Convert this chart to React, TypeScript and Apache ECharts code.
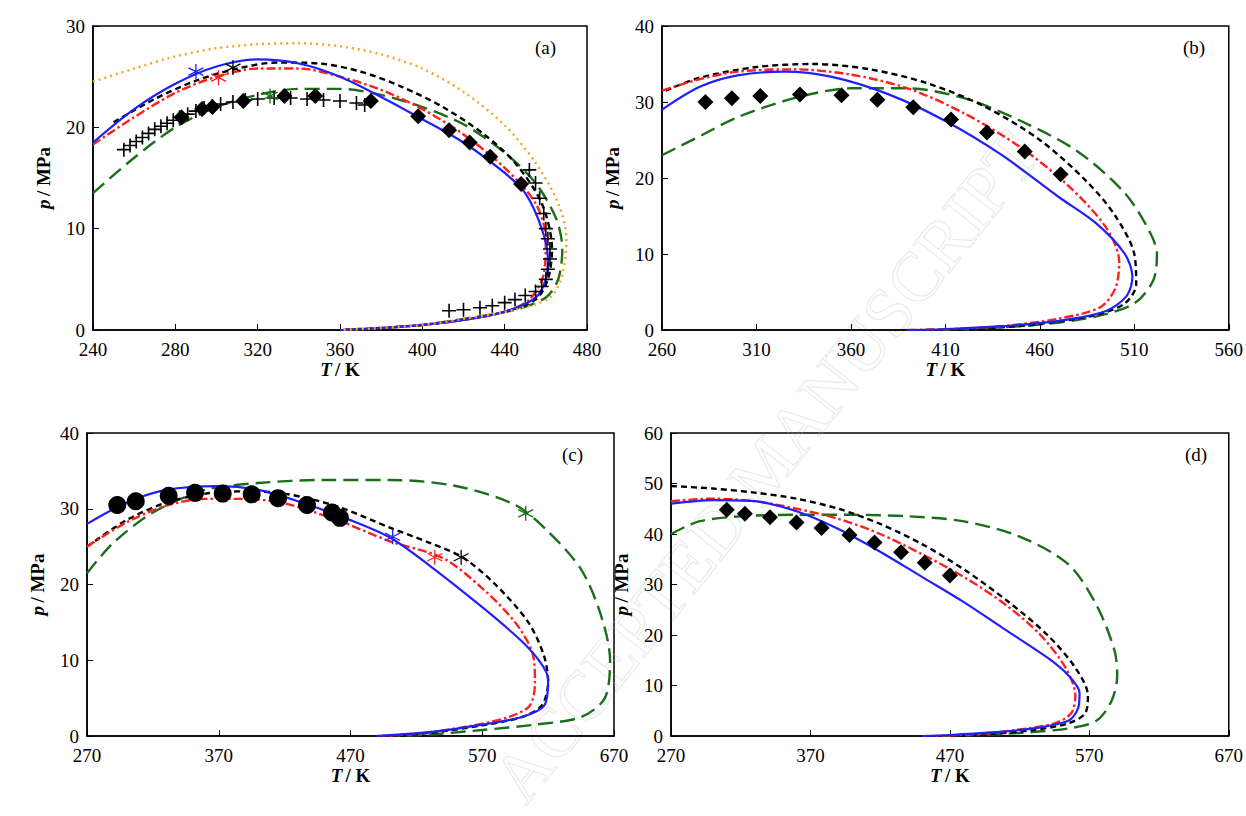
import { useRef, useEffect } from "react";
import * as echarts from "echarts";

// panel (a)
const aBlue = [[240,18.5],[260,21.8],[280,24.3],[300,26],[320,26.7],[340,26.3],[360,25],[380,23],[400,20.8],[420,18.5],[440,15.5],[450,13.5],[458,10],[461,7],[460,5],[455,3.2],[440,1.8],[420,1],[400,0.5],[380,0.2],[360,0]];
const aRed = [[240,18.3],[260,21],[280,23.4],[300,25],[320,25.8],[340,25.8],[360,25],[380,23.7],[400,21.8],[420,19.3],[440,16],[455,12.5],[460,9],[459,5.5],[452,3],[440,1.8],[420,1],[400,0.5],[380,0.2],[360,0]];
const aBlack = [[250,20.5],[270,22.8],[290,24.6],[310,25.8],[330,26.4],[350,26.3],[370,25.5],[390,24],[410,22],[430,19.3],[445,16.5],[458,12.5],[463,8],[461,5],[455,3],[440,1.8],[420,1],[400,0.5],[380,0.2],[360,0]];
const aGreen = [[240,13.5],[260,17],[280,20],[300,22],[320,23.2],[340,23.8],[360,23.8],[380,23.2],[400,22],[420,20.3],[440,17.5],[455,14.5],[465,11],[468,8],[466,5],[460,3.2],[445,2],[420,1.1],[400,0.5],[380,0.2],[360,0]];
const aOrange = [[240,24.5],[260,25.8],[280,27],[300,27.8],[320,28.2],[340,28.3],[360,28],[380,27.2],[400,25.8],[420,23.5],[440,20.2],[455,16.5],[466,12.5],[470,9],[468,5.5],[462,3.2],[445,2],[420,1.1],[400,0.5],[380,0.2],[360,0]];
const aCross = [[255,17.8],[258,18.2],[261,18.6],[264,19],[267,19.4],[270,19.8],[273,20.1],[276,20.4],[279,20.7],[282,21],[286,21.3],[290,21.6],[294,21.9],[298,22.1],[302,22.3],[308,22.5],[314,22.7],[320,22.8],[328,22.9],[336,22.9],[344,22.8],[352,22.7],[360,22.6],[368,22.4],[372,22.2],[452,15.8],[455,14.5],[457,13],[459,11.5],[460,10],[461,9],[462,8],[462,7],[461,6],[460,5],[458,4.3],[455,3.8],[450,3.4],[445,3],[440,2.7],[434,2.4],[428,2.2],[420,2],[413,1.9]];
const aDiamond = [[283,21],[293,21.8],[298,22],[313,22.6],[333,23.1],[348,23.1],[375,22.6],[398,21.1],[413,19.7],[423,18.5],[433,17.1],[448,14.4]];
const aStars = [{ c: "blue", v: [290,25.5] }, { c: "red", v: [301,24.9] }, { c: "black", v: [308,25.9] }, { c: "green", v: [326,23.1] }];

// panel (b)
const bBlue = [[260,29],[280,32],[300,33.5],[325,34],[350,33.3],[380,31],[410,27.5],[440,23],[470,17.5],[490,14],[505,10],[509,7],[506,4.5],[495,2.5],[470,1.2],[440,0.5],[410,0.1],[390,0]];
const bRed = [[260,31.5],[280,33],[300,34],[330,34.3],[360,33.6],[390,31.8],[420,28.5],[450,24],[475,19],[495,13.5],[502,9],[500,5.5],[492,3],[470,1.5],[440,0.5],[410,0.1],[390,0]];
const bBlack = [[262,31.5],[280,33.2],[310,34.6],[340,35],[370,34.3],[400,32.5],[430,29.5],[460,25],[485,19.5],[500,15],[510,10],[511,6],[505,3.5],[490,2],[460,0.8],[430,0.2],[400,0]];
const bGreen = [[260,23],[280,25.5],[300,28],[330,30.5],[360,31.8],[390,31.8],[420,30.5],[450,27.5],[480,23.5],[505,18],[518,13],[522,10],[520,6.5],[510,3.5],[490,1.8],[460,0.7],[420,0.1],[400,0]];
const bDiamond = [[283,30],[297,30.5],[312,30.8],[333,31],[355,30.9],[374,30.3],[393,29.3],[413,27.7],[432,26],[452,23.5],[471,20.5]];

// panel (c)
const cBlue = [[270,28],[300,30.8],[330,32.5],[370,33],[400,32.5],[430,31],[470,28.5],[500,26.2],[530,22.5],[570,17],[600,12.5],[615,9.5],[620,7.5],[617,4],[600,2.5],[570,1.5],[530,0.5],[490,0]];
const cRed = [[270,25],[300,28.2],[330,30.4],[360,31.3],[390,31.3],[420,30.7],[460,28.5],[500,25.7],[540,23.5],[570,19.5],[595,15],[608,11],[610,7],[606,4],[590,2.5],[560,1.3],[520,0.3],[490,0]];
const cBlack = [[270,25],[300,28.5],[330,30.8],[360,32],[390,32.3],[420,32],[460,30.3],[500,27.5],[530,25.5],[555,23.6],[580,20],[605,15],[617,10.5],[620,7],[615,4],[600,2.5],[570,1.4],[530,0.4],[500,0]];
const cGreen = [[270,21.5],[290,25.5],[320,29.5],[360,32.5],[400,33.4],[450,33.8],[500,33.8],[550,33],[595,30.5],[620,27],[645,22],[660,16],[667,10],[663,5],[645,2.5],[610,1.5],[570,0.8],[530,0.2],[500,0]];
const cCircle = [[293,30.5],[307,31],[332,31.7],[352,32.1],[373,32],[395,31.9],[415,31.4],[437,30.5],[456,29.5],[462,28.8]];
const cStars = [{ c: "blue", v: [502,26.3] }, { c: "red", v: [534,23.6] }, { c: "black", v: [554,23.6] }, { c: "green", v: [603,29.4] }];

// panel (d)
const dBlue = [[270,46],[300,46.7],[330,46.5],[360,44.5],[390,41],[420,36.5],[450,31.5],[480,26.5],[510,21],[540,15.5],[555,12],[563,8.5],[562,5.5],[555,3],[530,1.5],[500,0.7],[470,0.2],[450,0]];
const dRed = [[270,46.5],[300,47],[330,46.5],[360,45],[390,43],[420,40],[450,36],[480,31.5],[510,26],[535,20],[553,13.5],[560,8],[557,4.5],[545,2.5],[520,1.3],[490,0.4],[460,0]];
const dBlack = [[270,49.5],[300,49],[330,48.2],[360,47],[390,45],[420,42],[450,38],[480,33],[510,27],[540,20],[560,13.5],[569,8],[567,4.5],[555,2.5],[530,1.2],[500,0.4],[470,0]];
const dGreen = [[270,40],[290,42.5],[320,43.5],[360,43.8],[400,43.8],[440,43.5],[480,42.5],[520,39.5],[555,34],[575,26],[588,17],[590,12],[586,7],[575,3],[555,1.5],[520,0.6],[480,0.1],[460,0]];
const dDiamond = [[310,44.8],[323,44],[341,43.3],[360,42.3],[378,41.2],[398,39.8],[416,38.3],[435,36.4],[452,34.3],[470,31.8]];

const xRanges = [[240, 480, 40], [260, 560, 50], [270, 670, 100], [270, 670, 100]];
const yRanges = [[0, 30, 10], [0, 40, 10], [0, 40, 10], [0, 60, 10]];
const panelLabels = ["(a)", "(b)", "(c)", "(d)"];

const FONT = "'Liberation Serif', 'Times New Roman', serif";
const STAR = "path://M0,-10L0,10M-8.7,-5L8.7,5M-8.7,5L8.7,-5";
const PLUS = "path://M-6,0L6,0M0,-6L0,6";

const COLORS: Record<string, string> = { blue: "#1f1fff", red: "#ff1f1f", black: "#000", green: "#1a6e1a" };

const grids = [
  { left: 93, top: 26, width: 494, height: 304 },
  { left: 662, top: 26, width: 573, height: 304 },
  { left: 87, top: 433, width: 527, height: 303 },
  { left: 671, top: 433, width: 566, height: 303 },
];

const line = (i: number, data: number[][], color: string, type: any, width = 2) => ({
  type: "line", xAxisIndex: i, yAxisIndex: i, data, symbol: "none", smooth: 0.3, z: 3,
  lineStyle: { color, width, type },
});

const stroked = (i: number, data: number[][], symbol: string, color: string, size: number, bw = 1.3) => ({
  type: "scatter", xAxisIndex: i, yAxisIndex: i, data, symbol, symbolSize: size, z: 5,
  itemStyle: { color: "rgba(0,0,0,0)", borderColor: color, borderWidth: bw, opacity: 1 },
});

const filled = (i: number, data: number[][], symbol: string, size: number) => ({
  type: "scatter", xAxisIndex: i, yAxisIndex: i, data, symbol, symbolSize: size, z: 4,
  itemStyle: { color: "#000", opacity: 1 },
});

const App = () => {
  const chartRef = useRef(null);

  useEffect(() => {
    document.body.style.margin = "0";
    if (!chartRef.current) return;
    const chart = echarts.init(chartRef.current, null, { renderer: "svg" });

    const axisCommon = {
      axisLine: { show: true, onZero: false, lineStyle: { color: "#000", width: 1.5 } },
      axisTick: { show: true, inside: true, length: 6, lineStyle: { color: "#000" } },
      axisLabel: { color: "#000", fontFamily: FONT, fontSize: 19 },
      splitLine: { show: false },
    };
    const rich = {
      i: { fontFamily: FONT, fontSize: 19, fontWeight: "bold", fontStyle: "italic", color: "#000" },
      n: { fontFamily: FONT, fontSize: 19, fontWeight: "bold", color: "#000" },
    };

    const xAxis = xRanges.map((r, i) => ({
      type: "value", gridIndex: i, min: r[0], max: r[1], interval: r[2], ...axisCommon,
      axisLabel: { ...axisCommon.axisLabel, margin: 10 },
      name: "{i|T} {n|/ K}", nameLocation: "middle", nameGap: 26, nameTextStyle: { rich },
    }));
    const yAxis = yRanges.map((r, i) => ({
      type: "value", gridIndex: i, min: r[0], max: r[1], interval: r[2], ...axisCommon,
      name: "{i|p} {n|/ MPa}", nameLocation: "middle", nameGap: 40, nameTextStyle: { rich },
    }));

    const ORANGE = "#f5a623";
    const dash = [6, 4], dashDot = [9, 3, 2.5, 3], longDash = [15, 7];

    const series: any[] = [];
    const sets = [
      [aBlue, aRed, aBlack, aGreen],
      [bBlue, bRed, bBlack, bGreen],
      [cBlue, cRed, cBlack, cGreen],
      [dBlue, dRed, dBlack, dGreen],
    ];
    sets.forEach((s, i) => {
      series.push(line(i, s[3], COLORS.green, longDash, 2.4));
      series.push(line(i, s[2], COLORS.black, dash, 2.4));
      series.push(line(i, s[1], COLORS.red, dashDot, 2.4));
      series.push(line(i, s[0], COLORS.blue, "solid", 2.2));
    });
    series.push(line(0, aOrange, ORANGE, [2, 4], 2.5));
    series.push(stroked(0, aCross, PLUS, "#000", 14, 1.6));
    series.push(filled(0, aDiamond, "diamond", 16));
    series.push(filled(1, bDiamond, "diamond", 16));
    series.push(filled(2, cCircle, "circle", 18));
    series.push(filled(3, dDiamond, "diamond", 16));
    [[0, aStars], [2, cStars]].forEach(([i, st]: any) => {
      st.forEach((s: any) => series.push(stroked(i, [s.v], STAR, COLORS[s.c], 15)));
    });

    const graphic: any[] = grids.map((g, i) => ({
      type: "text", left: g.left + g.width - 52, top: g.top + 12,
      style: { text: panelLabels[i], font: `19px ${FONT}`, fill: "#000" },
    }));
    graphic.push({
      type: "text", x: 480, y: 770, rotation: 0.9, z: 0, silent: true,
      style: { text: "ACCEPTED MANUSCRIPT", font: `70px ${FONT}`, fill: "rgba(255,255,255,0)", stroke: "rgba(185,185,185,0.3)", lineWidth: 1.2 },
    });

    chart.setOption({
      animation: false,
      backgroundColor: "#fff",
      grid: grids.map((g) => ({ ...g, show: true, borderColor: "#000", borderWidth: 1.5, backgroundColor: "transparent" })),
      xAxis, yAxis, series, graphic,
    });

    return () => chart.dispose();
  }, []);

  return <div ref={chartRef} style={{ width: "1246px", height: "816px" }} />;
};

export default App;
